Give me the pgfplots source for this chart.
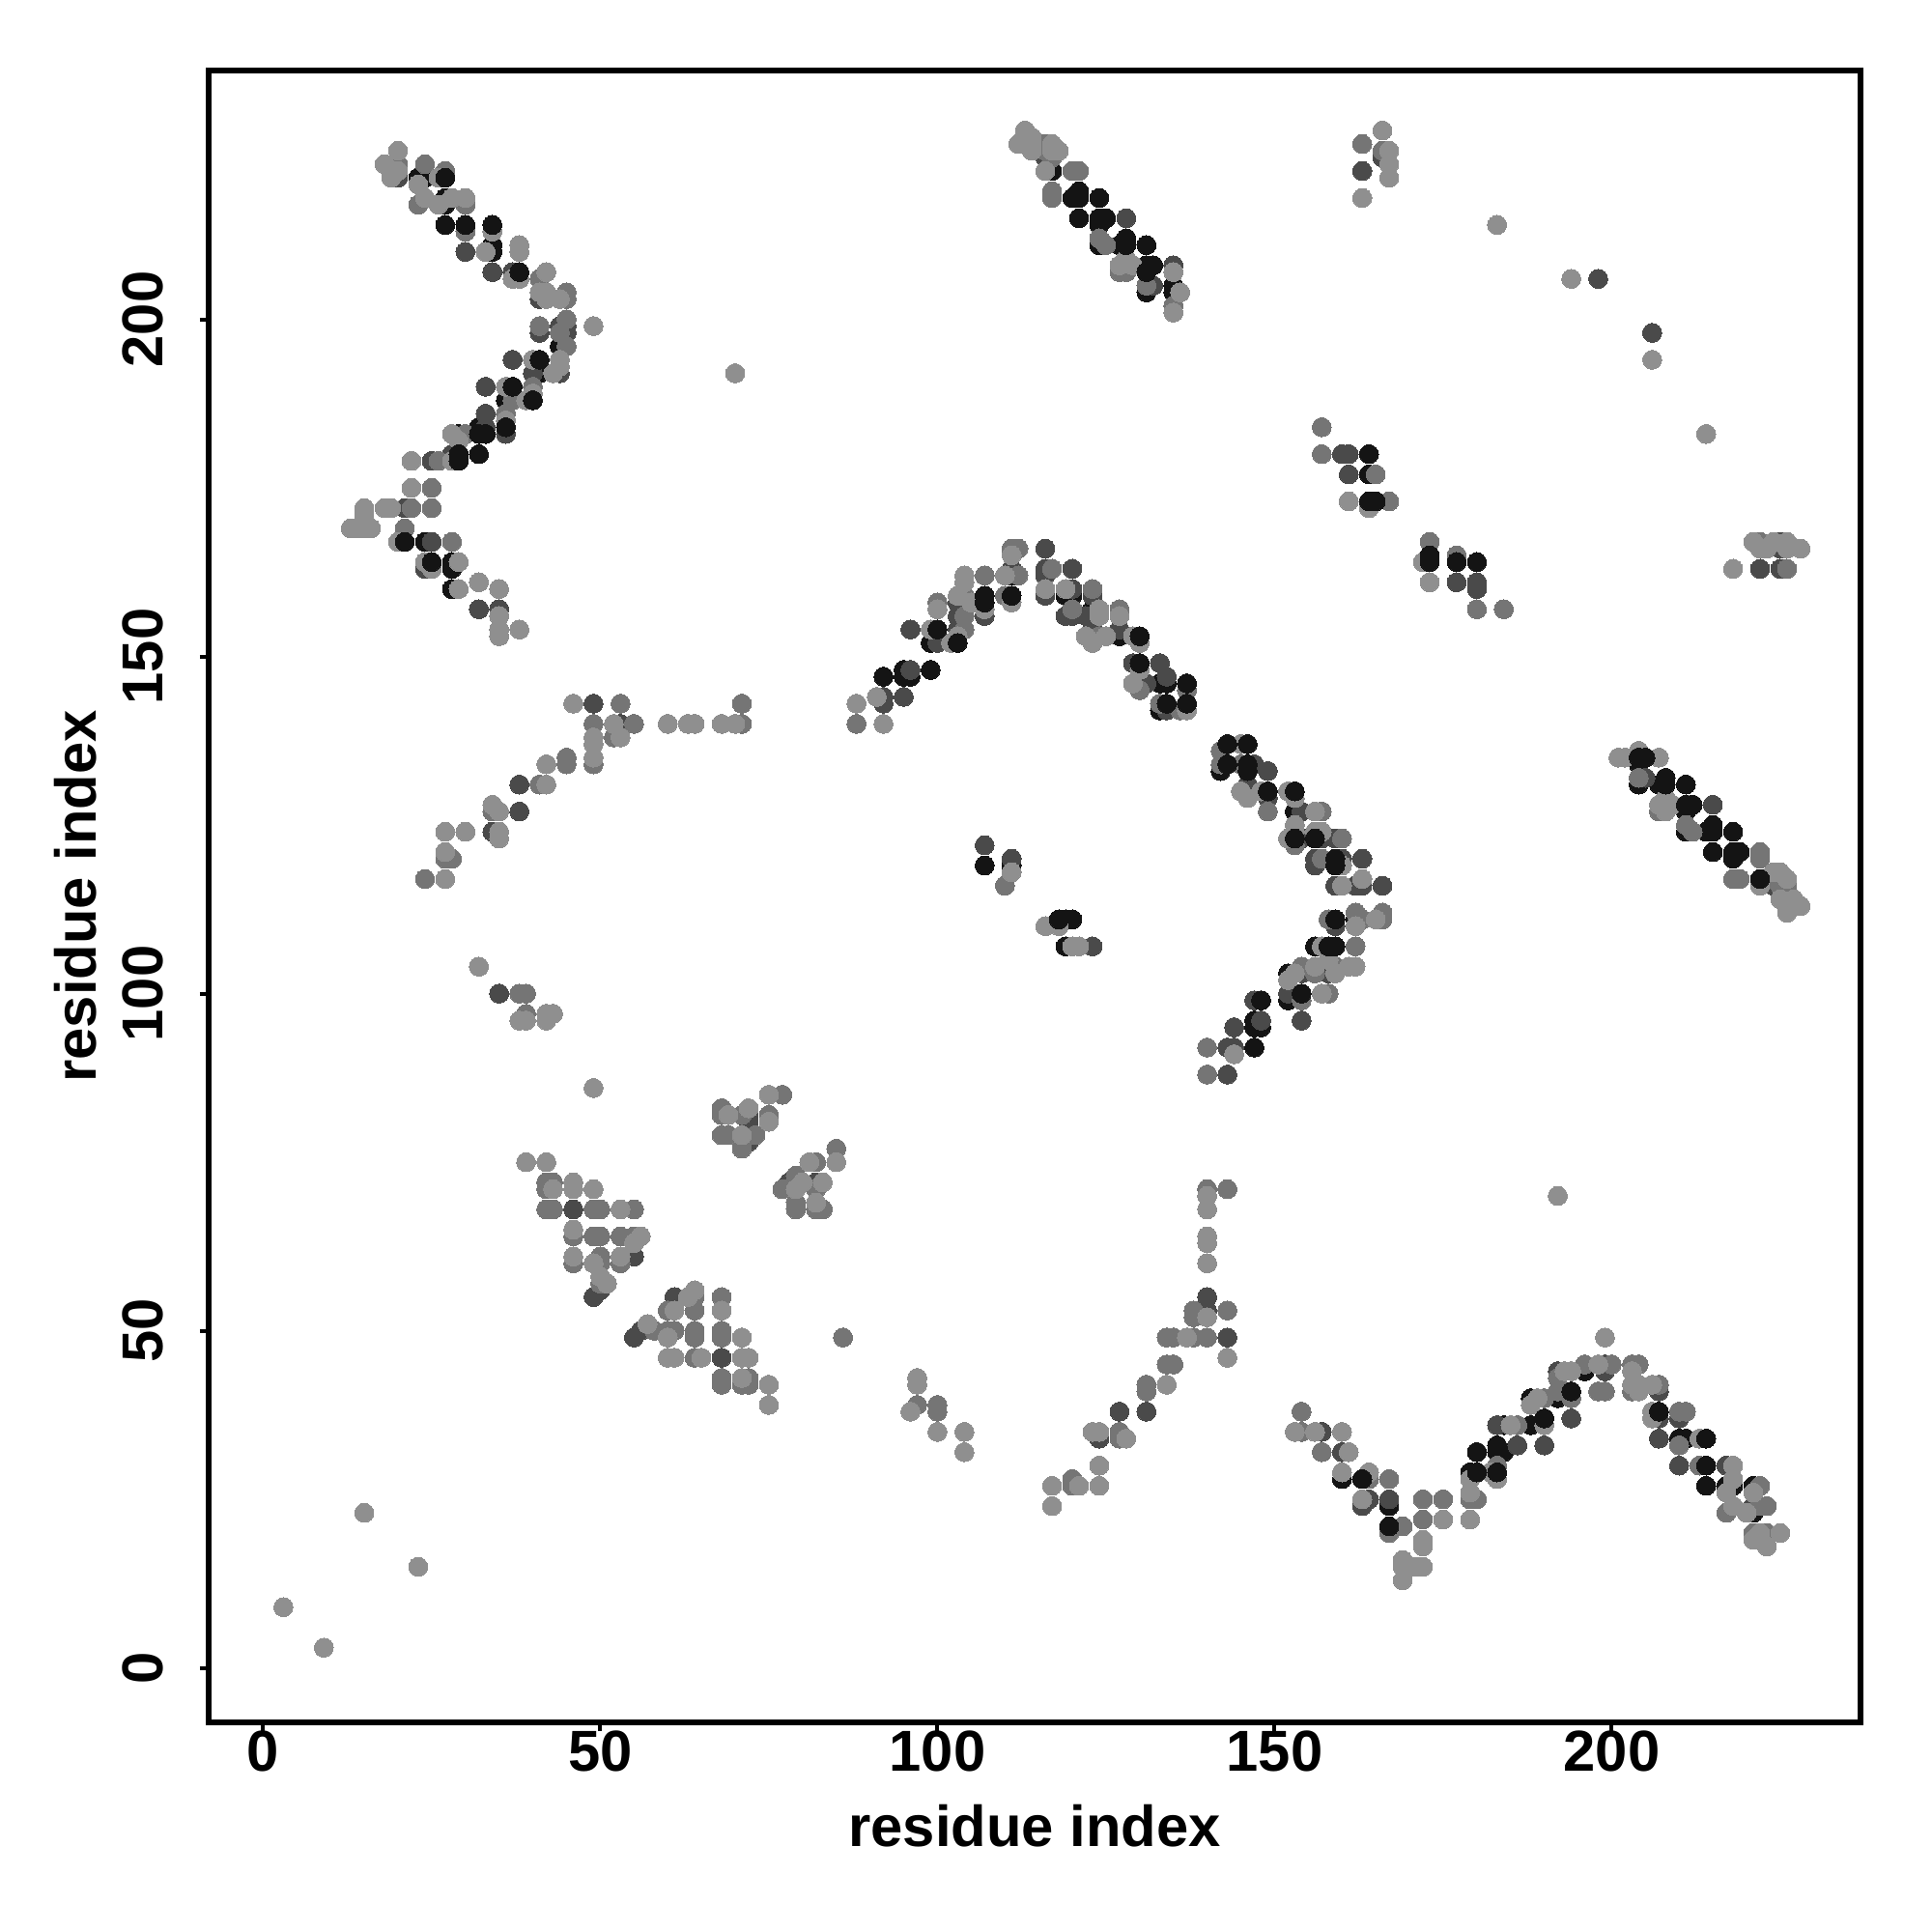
\documentclass[border=0pt]{standalone}
\usepackage{pgfplots}
\pgfplotsset{compat=1.18}
\usepackage{fontspec}
\setmainfont{Liberation Sans}[BoldFont={Liberation Sans Bold}]
\definecolor{gK}{gray}{0.08}
\definecolor{gD}{gray}{0.29}
\definecolor{gM}{gray}{0.46}
\definecolor{gL}{gray}{0.56}
\begin{document}
\begin{tikzpicture}[x=1cm,y=1cm]
\useasboundingbox (0,0) rectangle (20,20);
\begin{axis}[
 at={(2.16cm,2.17cm)},anchor=south west,
 scale only axis,width=17.1cm,height=17.1cm,
 xmin=-8.08,xmax=236.9,ymin=-8.08,ymax=236.9,
 axis line style={line width=0.6mm,black},
 xtick={0,50,...,200},ytick={0,50,...,200},
 xtick pos=bottom,ytick pos=left,
 tick align=outside,
 major tick length=0.09cm,
 tick style={black,line width=0.4mm},
 /pgf/number format/assume math mode=true,
 ticklabel style={font=\fontsize{17.0}{20}\selectfont\bfseries},
 xticklabel style={anchor=center,yshift=-0.208cm},
 yticklabel style={rotate=90,anchor=center,yshift=0.595cm},
 xlabel={residue index},ylabel={residue index},
 label style={font=\fontsize{17.0}{20}\selectfont\bfseries},
 xlabel style={at={(axis description cs:0.5,-0.0625)},anchor=center},
 ylabel style={at={(axis description cs:-0.0805,0.5)},anchor=center,rotate=0},
 every axis plot/.append style={only marks,mark=*,mark size=2.8pt},
 clip=false,
]
% K: dark, lower layer
\addplot[color=gK,mark options={solid,fill=gK,line width=0pt}] coordinates {
(23,221)(24,221)(27,221)(27,218)(27,217)(27,214)(34,211)(34,210)(44,196)(41,192)(36,188)(40,188)
(32,184)(32,183)(33,183)(32,180)(29,180)(29,179)(28,164)(28,163)(28,160)(24,167)(29,183)
(117,222)(120,218)(121,219)(121,218)(124,218)(121,215)(124,215)(125,215)(124,214)(124,211)(127,211)(128,212)(128,211)(131,211)(131,208)(132,208)(131,207)(131,204)(135,205)(135,204)(128,208)
(111,162)(123,157)(123,156)(123,153)(119,159)(120,159)(127,153)(130,146)(133,146)(134,146)(133,142)(99,152)(92,147)(95,148)(95,147)(96,147)(99,148)
(142,133)(146,134)(146,133)(146,130)(153,127)(153,123)(156,123)(159,120)(159,119)(156,107)(158,104)(152,103)(152,99)(147,96)(147,95)(148,95)(147,92)(148,99)(154,100)(162,111)
(204,134)(204,131)(207,131)(208,132)(211,131)(208,128)(211,128)(212,128)(211,127)(211,124)(214,124)(215,125)(215,124)(218,124)(215,121)(218,121)(219,121)
(160,28)(163,28)(164,28)(167,24)(179,29)(180,29)(180,32)(183,32)(184,32)(183,33)(184,36)(188,36)(188,40)(192,40)(196,44)(210,34)(211,34)(217,27)(218,27)(221,27)(221,23)
(164,180)(164,177)(180,164)(119,111)(120,111)(107,119)(111,119)(119,107)
};
% D
\addplot[color=gD,mark options={solid,fill=gD,line width=0pt}] coordinates {
(20,221)(30,210)(34,207)(37,207)(41,203)(41,198)(44,199)(45,199)(45,198)(37,194)(40,192)(44,192)(33,190)
(33,186)(36,183)(33,184)(28,180)(21,172)(25,167)(24,163)(32,157)(35,157)(25,179)
(116,224)(135,208)(128,215)(132,205)
(116,166)(116,163)(116,162)(120,163)(111,163)(103,158)(103,156)(103,154)(107,156)(116,159)(120,160)(119,156)(120,156)(122,156)(123,159)(127,154)(96,154)(100,152)(129,149)(133,149)(130,147)(131,146)(134,147)(92,144)(92,143)(95,144)(96,148)(134,142)(123,154)
(147,134)(149,133)(149,129)(146,131)(154,127)(154,123)(157,123)(159,123)(156,120)(156,119)(160,120)(163,120)(159,116)(162,116)(163,116)(166,116)(158,111)(159,110)(154,103)(158,103)(152,100)(147,99)(148,96)(154,96)(144,95)(143,92)(144,92)(143,88)(157,104)(162,107)
(205,132)(215,128)(223,117)(224,116)
(157,35)(160,32)(157,32)(164,25)(163,24)(167,25)(190,33)(186,33)(183,36)(194,37)(192,44)(199,45)(199,44)(207,37)(207,41)(207,34)(210,37)(210,30)(217,30)(221,24)
(160,180)(161,180)(161,177)(177,161)(180,161)(180,160)(225,167)(225,166)(222,163)(225,163)
(49,143)(53,140)(38,131)(38,127)(34,124)(46,68)(72,81)(72,82)(72,79)(72,78)(78,72)(79,72)(82,72)(55,61)(50,56)(49,55)(55,49)(56,50)(68,46)(61,55)
(127,38)(143,49)(140,53)(140,55)(124,34)(131,38)
(163,222)(166,224)(198,206)(206,198)(35,100)(123,107)(107,122)(111,120)
};
% M
\addplot[color=gM,mark options={solid,fill=gM,line width=0pt}] coordinates {
(20,223)(24,223)(27,222)(23,217)(30,213)(30,217)(37,206)(41,206)(45,204)(45,203)(45,200)(41,199)(44,198)(45,196)(40,190)(37,188)
(36,186)(30,183)(26,179)(22,172)(25,172)(21,169)(28,167)(25,175)
(116,226)(116,225)(117,224)(120,222)(121,222)(117,219)(117,218)(124,212)(125,211)(127,207)(128,207)(131,205)(135,202)
(111,166)(112,166)(112,162)(107,162)(117,163)(104,159)(104,156)(104,154)(100,158)(110,159)(111,158)(120,157)(123,160)(127,157)(124,153)(88,140)(137,145)(136,142)(133,143)(130,145)
(142,136)(142,134)(145,134)(149,127)(157,127)(153,122)(160,123)(157,120)(158,111)(162,112)(163,111)(166,112)(166,111)(162,107)(154,104)(156,103)(159,104)(154,99)(158,100)(140,92)(144,91)(140,88)
(204,132)(207,127)(211,125)(212,124)(222,121)(222,120)(218,117)(219,117)(224,117)(225,116)(226,116)
(154,38)(154,35)(157,32)(167,28)(164,28)(172,25)(175,25)(172,22)(167,20)(169,21)(180,25)(179,25)(183,30)(186,36)(190,40)(192,41)(192,43)(194,40)(196,45)(200,45)(198,41)(199,41)(203,45)(204,45)(203,41)(207,42)(210,38)(211,38)(210,33)(213,30)(222,27)(222,24)(223,24)(221,20)(223,20)(217,23)
(157,184)(157,180)(165,177)(167,173)(173,167)(177,165)(180,157)(184,157)(222,167)(226,163)
(53,143)(71,143)(49,140)(55,140)(71,140)(52,138)(49,134)(45,135)(45,134)(41,131)(34,127)(27,120)(28,120)(24,117)
(42,72)(43,72)(42,71)(42,68)(43,68)(49,68)(50,68)(55,68)(46,64)(49,64)(50,64)(53,64)(55,64)(46,60)(50,61)(50,60)(53,60)(50,57)
(77,85)(68,83)(68,82)(71,82)(75,82)(68,79)(69,79)(73,79)(71,77)(85,77)(82,75)(79,73)(77,71)(82,71)(79,69)(79,68)(82,68)(83,68)
(64,55)(64,53)(60,53)(68,55)(58,50)(60,50)(61,50)(64,50)(64,49)(68,50)(68,49)(64,46)(68,43)(68,42)(71,42)(72,43)(72,42)
(140,71)(143,71)(143,53)(138,53)(138,52)(134,49)(135,49)(138,49)(140,49)(134,45)(135,45)(131,42)(131,41)(127,35)(127,34)(120,28)(120,27)
(163,226)(166,225)(86,49)(97,39)(100,39)(100,38)(38,100)(39,100)(39,97)(110,116)
};
% L
\addplot[color=gL,mark options={solid,fill=gL,line width=0pt}] coordinates {
(20,225)(18,223)(19,221)(20,222)(23,220)(26,221)(24,218)(26,217)(28,218)(30,218)(34,213)(33,210)(38,211)(38,210)(38,206)(37,206)(42,207)(41,204)(42,204)(42,203)(44,203)(49,199)(44,194)(44,193)(43,192)(40,194)(36,190)(40,189)(39,188)
(36,185)(28,183)(29,182)(28,179)(22,179)(22,175)(15,172)(15,171)(18,172)(19,172)(13,169)(14,169)(15,169)(16,169)(20,167)(24,164)(25,163)(29,164)(29,160)(32,161)(35,160)(35,156)(35,154)(35,153)(38,154)
(113,228)(112,226)(114,227)(114,226)(114,225)(117,226)(118,225)(117,225)(116,222)(127,208)(128,209)(129,208)(135,207)(136,204)(135,201)
(111,165)(110,162)(104,162)(104,161)(103,159)(105,158)(107,157)(116,160)(119,160)(124,157)(124,156)(127,156)(100,157)(99,154)(103,153)(102,152)(111,158)
(122,153)(123,152)(125,153)(129,153)(130,152)(130,148)(129,146)(88,143)(92,140)(91,144)(137,142)
(145,137)(145,130)(153,129)(146,129)(148,130)(152,130)(156,127)(153,125)(153,124)(152,123)(156,124)(157,124)(160,119)(160,116)(163,117)(162,110)(165,111)(157,107)(158,105)(159,103)(161,104)(162,104)(156,104)(153,103)(152,102)(157,100)(144,91)
(201,135)(202,135)(204,136)(207,135)(207,128)(208,129)(209,128)(208,127)(222,116)(224,118)(225,118)(226,117)(225,114)(227,114)(226,112)(228,113)
(199,49)(153,35)(156,35)(160,35)(161,32)(160,29)(164,29)(163,25)(175,22)(172,19)(172,18)(169,16)(169,15)(169,13)(170,15)(171,15)(172,15)(179,22)(179,26)(179,28)(182,29)(183,28)(185,36)(190,36)(188,39)(189,40)(193,44)(194,44)(198,45)(203,44)(203,42)(204,42)(204,41)(206,42)(206,38)(206,37)(213,34)(218,30)(218,28)(217,26)(221,26)(218,24)(220,23)(221,19)(222,20)(223,18)(225,20)
(161,173)(164,172)(172,164)(173,161)(214,183)(218,163)(221,167)(224,167)(226,167)(222,166)(223,166)(226,166)(228,166)
(46,143)(52,140)(60,140)(63,140)(64,140)(68,140)(70,140)(49,138)(49,137)(53,138)(49,135)(42,134)(42,131)(34,128)(35,127)(27,124)(30,124)(35,124)(35,123)(27,121)(27,117)
(49,86)(39,75)(42,75)(43,71)(46,72)(46,71)(49,71)(53,68)(46,65)(56,64)(55,63)(46,61)(49,60)(53,61)(50,58)(51,57)
(75,85)(69,82)(72,83)(75,81)(71,79)(81,75)(85,75)(79,71)(80,72)(83,72)(82,69)
(63,55)(64,56)(68,53)(61,53)(57,51)(60,49)(71,49)(60,46)(61,46)(65,46)(71,46)(72,46)(71,43)(75,42)(75,39)
(140,70)(140,68)(140,64)(140,63)(140,60)(140,52)(143,46)(137,49)(134,42)(123,35)(124,35)(128,34)(124,30)(124,27)(117,27)(121,27)(117,24)
(70,192)(163,218)(166,228)(167,225)(167,223)(167,221)(183,214)(194,206)(206,194)(192,70)(3,9)(9,3)(15,23)(23,15)
(32,104)(39,96)(38,96)(42,96)(43,97)(42,97)(97,42)(96,38)(97,43)(100,35)(104,35)(104,32)(111,118)(116,110)(118,110)(120,107)(121,107)
};
% T: dark, upper layer
\addplot[color=gK,mark options={solid,fill=gK,line width=0pt}] coordinates {
(34,214)(30,214)(38,207)(41,194)(37,190)(36,184)(21,167)(25,164)
(107,159)(107,158)(111,159)(103,152)(100,154)(130,153)(130,149)(134,143)(137,143)(137,146)
(143,137)(146,137)(143,134)(149,130)(153,130)(159,111)(159,107)(158,107)(154,100)(148,99)
(204,135)(205,135)(208,131)(218,120)(222,117)
(190,37)(194,41)(207,38)(214,34)(214,30)(183,29)(167,21)(214,27)
(173,165)(173,164)(177,164)(164,173)(165,173)(118,111)
(27,221)(33,183)(32,183)(29,180)(29,179)(40,188)(124,215)(125,215)(128,211)(128,212)(131,207)(121,218)
(215,124)(211,128)(212,128)(153,123)(156,123)(146,133)(146,134)(159,120)(159,119)(180,29)(180,32)(163,28)
};
\end{axis}
\end{tikzpicture}
\end{document}
